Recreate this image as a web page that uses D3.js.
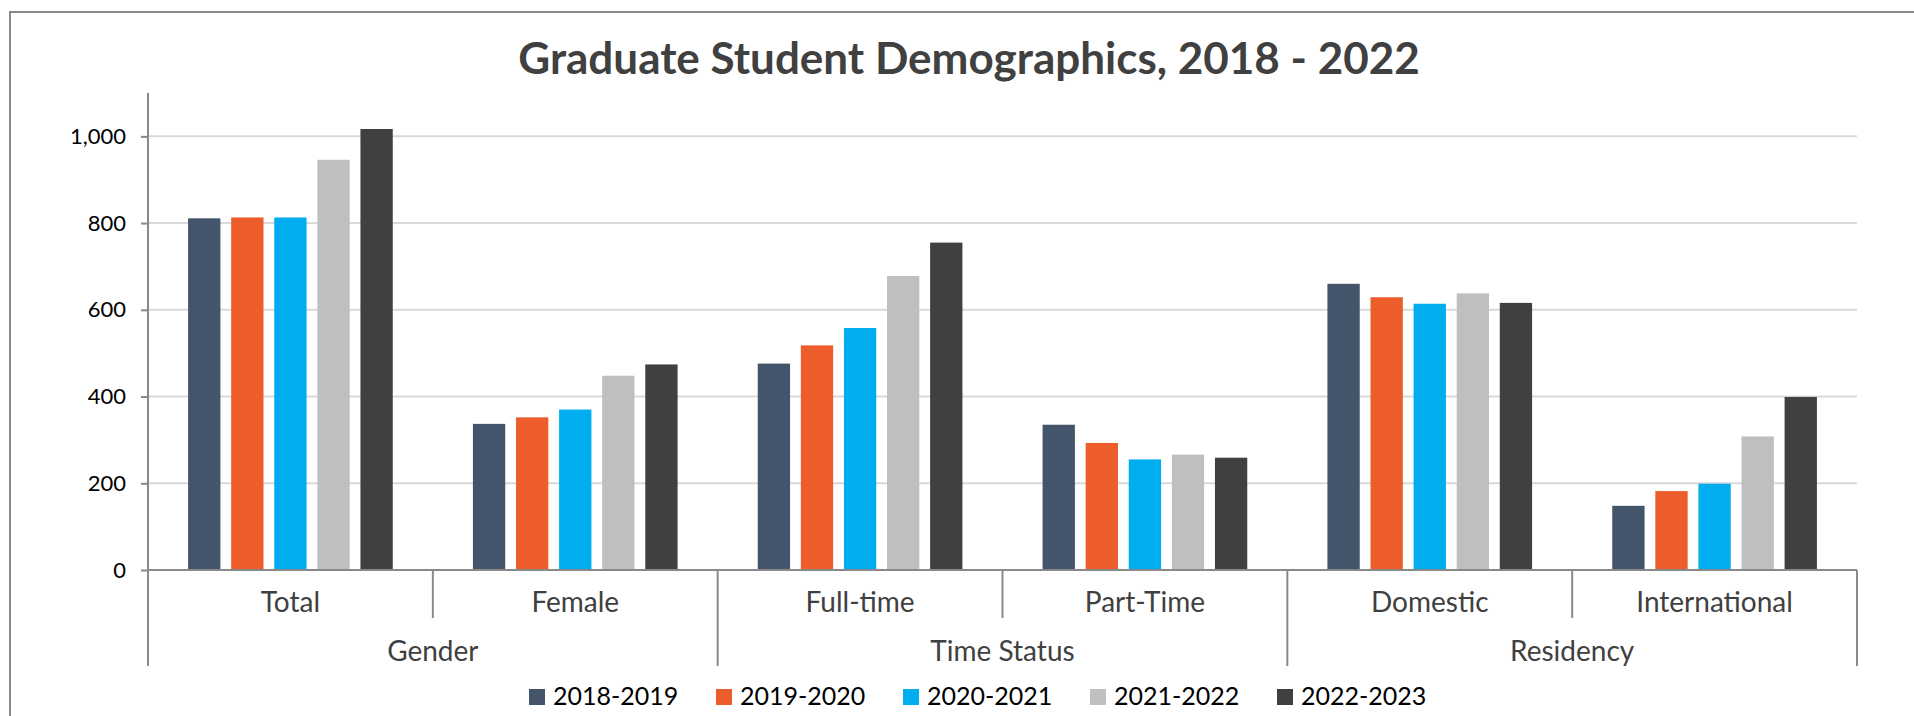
<!DOCTYPE html>
<html>
<head>
<meta charset="utf-8">
<script src="https://cdn.jsdelivr.net/npm/d3@7"></script>
<style>
  html, body { margin: 0; padding: 0; background: #fff; }
  svg { display: block; font-family: Lato, "Open Sans", sans-serif; }
</style>
</head>
<body>
<div id="chart"></div>
<script>
// data
const categories = ['Total', 'Female', 'Full-time', 'Part-Time', 'Domestic', 'International'];
const groups = ['Gender', 'Time Status', 'Residency'];
const seriesNames = ['2018-2019', '2019-2020', '2020-2021', '2021-2022', '2022-2023'];
const s2018 = [811, 337, 476, 335, 660, 148];
const s2019 = [813, 352, 518, 293, 629, 182];
const s2020 = [813, 370, 558, 255, 614, 199];
const s2021 = [946, 448, 678, 266, 638, 308];
const s2022 = [1017, 474, 755, 259, 616, 399];
const yTicks = [0, 200, 400, 600, 800, 1000];

// layout / style
const config = {
    width: 1914,
    height: 716,
    plot: { left: 148, right: 1857, top: 93, bottom: 570 },
    yMax: 1100,
    colors: ['#44546A', '#ED5C2B', '#00AEEF', '#BFBFBF', '#404040'],
    axisColor: '#898989',
    gridColor: '#D9D9D9'
};

function init() {
    const series = [s2018, s2019, s2020, s2021, s2022];
    const p = config.plot;

    const svg = d3.select('#chart')
        .append('svg')
        .attr('width', config.width)
        .attr('height', config.height);

    // chart frame (right and bottom edges fall outside the picture)
    svg.append('path')
        .attr('d', `M10,${config.height}V12H${config.width}`)
        .attr('fill', 'none')
        .attr('stroke', config.axisColor)
        .attr('stroke-width', 2);

    // title
    svg.append('text')
        .attr('x', 969)
        .attr('y', 74)
        .attr('text-anchor', 'middle')
        .attr('font-size', 44)
        .attr('font-weight', 'bold')
        .attr('fill', '#404040')
        .text('Graduate Student Demographics, 2018 - 2022');

    // scales
    const x0 = d3.scaleBand()
        .domain(categories)
        .range([p.left, p.right]);

    const x1 = d3.scaleBand()
        .domain(seriesNames)
        .range([0, x0.bandwidth()])
        .paddingInner(0.25)
        .paddingOuter(0.93);

    const y = d3.scaleLinear()
        .domain([0, config.yMax])
        .range([p.bottom, p.top]);

    // grid lines
    svg.append('g')
        .selectAll('line')
        .data(yTicks.filter(d => d > 0))
        .enter()
        .append('line')
        .attr('x1', p.left)
        .attr('x2', p.right)
        .attr('y1', d => y(d))
        .attr('y2', d => y(d))
        .attr('stroke', config.gridColor)
        .attr('stroke-width', 2);

    // bars
    const catG = svg.append('g')
        .selectAll('g')
        .data(categories)
        .enter()
        .append('g')
        .attr('transform', d => `translate(${x0(d)},0)`);

    catG.selectAll('rect')
        .data((c, ci) => seriesNames.map((s, si) => ({ s, si, v: series[si][ci] })))
        .enter()
        .append('rect')
        .attr('x', d => x1(d.s))
        .attr('width', x1.bandwidth())
        .attr('y', d => y(d.v))
        .attr('height', d => y(0) - y(d.v))
        .attr('fill', d => config.colors[d.si]);

    // y axis
    const yAxis = d3.axisLeft(y)
        .tickValues(yTicks)
        .tickFormat(d3.format(','))
        .tickSize(7)
        .tickPadding(15);

    const yG = svg.append('g')
        .attr('transform', `translate(${p.left},0)`)
        .call(yAxis);
    yG.select('.domain').remove();
    yG.selectAll('.tick line')
        .attr('stroke', config.axisColor)
        .attr('stroke-width', 2);
    yG.selectAll('.tick text')
        .attr('font-family', 'Lato, sans-serif')
        .attr('font-size', 22)
        .attr('fill', '#000');

    // axis lines
    svg.append('line')
        .attr('x1', p.left).attr('x2', p.left)
        .attr('y1', p.top).attr('y2', 666)
        .attr('stroke', config.axisColor)
        .attr('stroke-width', 2);

    svg.append('line')
        .attr('x1', p.left).attr('x2', p.right)
        .attr('y1', y(0)).attr('y2', y(0))
        .attr('stroke', config.axisColor)
        .attr('stroke-width', 2);

    // category separators: short inside a group, long between groups
    const bounds = d3.range(categories.length + 1);
    svg.append('g')
        .selectAll('line')
        .data(bounds.slice(1))
        .enter()
        .append('line')
        .attr('x1', i => p.left + i * x0.step())
        .attr('x2', i => p.left + i * x0.step())
        .attr('y1', y(0))
        .attr('y2', i => (i % 2 === 0 ? 666 : 618))
        .attr('stroke', config.axisColor)
        .attr('stroke-width', 2);

    // category labels
    svg.append('g')
        .selectAll('text')
        .data(categories)
        .enter()
        .append('text')
        .attr('x', d => x0(d) + x0.bandwidth() / 2)
        .attr('y', 612)
        .attr('text-anchor', 'middle')
        .attr('font-size', 28)
        .attr('fill', '#404040')
        .text(d => d);

    // group labels
    svg.append('g')
        .selectAll('text')
        .data(groups)
        .enter()
        .append('text')
        .attr('x', (d, i) => x0(categories[i * 2]) + x0.bandwidth())
        .attr('y', 661)
        .attr('text-anchor', 'middle')
        .attr('font-size', 28)
        .attr('fill', '#404040')
        .text(d => d);

    // legend
    const legend = svg.append('g')
        .selectAll('g')
        .data(seriesNames)
        .enter()
        .append('g')
        .attr('transform', (d, i) => `translate(${529 + i * 187},689)`);

    legend.append('rect')
        .attr('width', 16)
        .attr('height', 16)
        .attr('fill', (d, i) => config.colors[i]);

    legend.append('text')
        .attr('x', 24)
        .attr('y', 16)
        .attr('font-size', 25)
        .attr('fill', '#000')
        .text(d => d);
}

window.addEventListener('DOMContentLoaded', init);
</script>
</body>
</html>
